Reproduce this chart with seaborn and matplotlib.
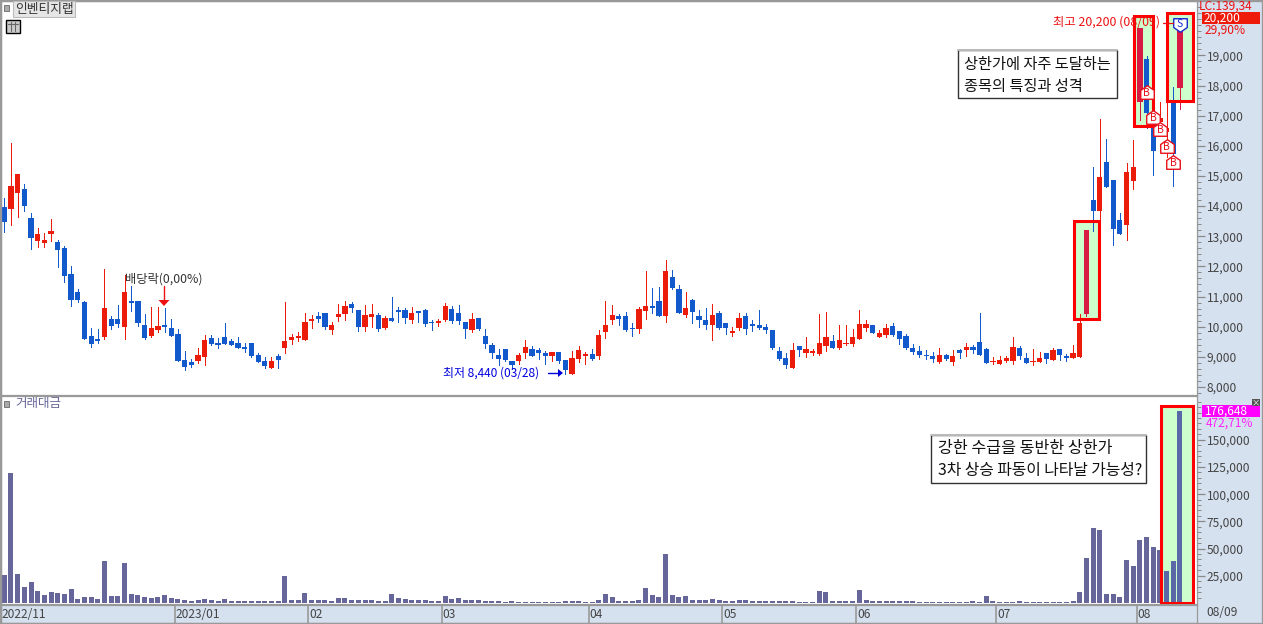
import numpy as np
import pandas as pd
import seaborn as sns
import matplotlib
matplotlib.use('Agg')
import matplotlib.pyplot as plt
from matplotlib.patches import Rectangle, Polygon
from matplotlib.path import Path

# daily candles
opens = [13970,13900,14430,14570,13610,12840,12780,13080,12810,12610,
    11750,11150,10820,9690,9590,9660,10260,10260,9990,10850,
    10850,10060,9690,9890,10060,9960,9760,8900,8830,8860,
    9000,9630,9460,9660,9530,9460,9330,9460,9060,8860,
    8630,9030,9290,9560,9630,9560,10190,10360,10450,9890,
    10320,10420,10750,10550,9990,10320,10390,9960,10290,10550,
    10550,10220,10520,10550,10160,10120,10220,10590,10450,10160,
    9890,10290,9690,9390,9060,9260,8860,8860,9130,9260,
    9230,9130,9030,9160,8900,8440,8930,9030,9090,9030,
    9820,10220,10360,10360,9960,9920,10520,10690,10850,10360,
    11650,11250,10390,10890,10360,10220,10060,10450,10120,9790,
    9960,10360,10090,10060,9990,9890,9190,8960,8630,9360,
    9130,9130,9090,9360,9530,9290,9430,9430,9590,9960,
    10060,9660,9720,10020,9860,9690,9290,9190,9060,9030,
    8830,9060,8830,9230,9230,9330,9490,9260,8830,8760,
    8860,8860,9290,8960,8830,8830,9130,8900,9260,9030,
    8960,9000,10420,14200,13840,15460,14870,13540,13370,14830,
    17450,18880,16920,16790,16460,17420,17920]
closes = [13470,14670,15070,14000,12940,13080,12880,13170,12540,11680,
    10890,10890,9590,9430,9530,10620,10020,10090,11150,10790,
    10120,9630,9960,10020,9990,9690,8860,8660,8730,9060,
    9560,9430,9390,9430,9390,9290,9260,9030,8830,8700,
    8860,8900,9530,9660,9690,10160,10260,10260,9990,10060,
    10420,10690,10620,9990,10390,10420,9920,10290,10190,10490,
    10290,10450,10450,10090,10120,10190,10690,10190,10190,9920,
    10260,9920,9430,9130,8930,8900,8730,9060,9330,9030,
    9130,9030,9160,8860,8560,8960,9230,9090,8930,9720,
    10060,10390,10260,9890,9920,10590,10690,10620,10360,11850,
    11280,10450,10620,10490,10220,10060,10390,9960,9960,9860,
    10290,9920,10020,9960,9890,9290,8930,8730,9230,9230,
    9260,9190,9460,9660,9290,9560,9460,9660,10090,10090,
    9790,9790,9960,9720,9590,9290,9160,9060,9030,8930,
    9060,8930,9030,9130,9330,9230,9060,8800,8860,8900,
    8960,9330,9030,8800,8860,8960,8930,9230,9060,8960,
    9130,10120,13210,13840,14970,14630,13240,13080,15130,15300,
    19910,17090,15830,16920,16590,15730,20200]
highs = [14270,16090,15070,14730,13770,13270,13110,13570,12880,12680,
    12010,11250,10850,9960,9920,11910,10360,10720,11720,11350,
    10850,10420,10650,10650,10620,10260,9920,9190,8930,9290,
    9720,9720,9630,10120,9590,9660,9460,9460,9130,9000,
    9000,9090,10820,9760,9820,10450,10390,10490,10450,10160,
    10750,10850,10820,10550,10720,10750,10450,10360,10990,10650,
    10620,10650,10520,10590,10220,10260,10790,10690,10720,10160,
    10450,10290,9920,9460,9260,9260,8860,9130,9560,9360,
    9290,9190,9160,9160,8900,9190,9360,9160,9260,9890,
    10850,10720,10420,10490,10120,10650,11850,11280,11320,12210,
    11880,11380,11150,10920,10550,10620,10750,10520,10120,9990,
    10450,10450,10220,10550,10090,9890,9330,9130,9460,9360,
    9660,9260,10420,10490,9720,10060,10060,9920,10550,10220,
    10060,9890,10090,10120,9860,9760,9430,9360,9230,9160,
    9290,9090,9230,9260,9460,9390,10450,9290,9000,9030,
    9030,9660,9360,9130,9260,9160,9130,9290,9260,9090,
    9390,10420,13210,15300,16890,16230,14870,13770,15430,16190,
    19910,18980,17250,17450,17450,17950,20200]
lows = [13140,13370,13640,13840,12580,12640,12640,12840,11980,11480,
    10690,10820,9590,9330,9460,9590,9920,9990,9590,10520,
    10020,9590,9660,9820,9820,9690,8860,8560,8660,8800,
    8730,9390,9290,9430,9390,9290,9160,9000,8830,8630,
    8630,8630,9130,9430,9530,9560,9960,10160,9920,9760,
    10190,10220,10490,9860,9860,9990,9860,9920,10190,10160,
    10120,10120,10160,10020,9890,10020,10190,10120,10090,9630,
    9820,9890,9290,8960,8730,8860,8600,8760,8960,9030,
    8930,8760,8860,8800,8440,8440,8830,8760,8900,8930,
    9630,10090,10060,9860,9690,9790,10260,10450,10360,10160,
    11250,10450,10320,10120,9990,9920,9560,9920,9760,9690,
    9890,9760,9860,9920,9790,9260,8900,8630,8630,9030,
    9000,9060,9060,9190,9290,9260,9390,9360,9590,9860,
    9790,9660,9660,9690,9430,9260,9090,9000,8930,8830,
    8800,8900,8730,8960,9030,9130,9060,8800,8760,8760,
    8830,8760,8930,8800,8730,8830,8800,8900,8900,8860,
    8960,9000,10360,13170,13210,14630,12710,13080,12880,14570,
    16860,16590,15030,16360,15630,14670,17220]
volumes = [25700,119500,26700,14700,19300,11000,7400,10100,9200,8300,
    12900,3700,5500,5500,3700,38600,6400,6400,36800,8300,
    7400,5500,4600,5500,7400,4600,3700,2800,1800,2800,
    3700,2800,1800,3700,1800,1800,1800,1800,1800,1800,
    1800,1800,24800,2800,2800,9200,2800,2800,2800,1800,
    4600,4600,2800,2800,2800,2800,1800,1800,8300,4600,
    3700,2800,2800,2800,1800,1800,6400,3700,4600,2800,
    2800,2800,1800,1800,1800,900,1800,900,900,900,
    900,900,900,900,1800,1800,1800,900,900,2800,
    8300,5500,1800,1800,1800,2800,13800,7400,5500,45000,
    7400,5500,6400,2800,2800,2800,3700,2800,1800,1800,
    2800,2800,1800,1800,1800,1800,1800,1800,1800,900,
    900,900,11000,10100,1800,1800,1800,1800,11900,2800,
    1800,1800,1800,1800,1800,1800,1800,900,900,900,
    900,900,900,900,900,1800,900,6400,1800,900,
    900,900,1800,900,900,900,900,900,900,900,
    1800,10100,41400,68900,67100,8300,8300,5500,39500,34000,
    57900,60700,51500,48700,29400,38600,176648]

limit_days = [162, 170, 176]
buy_days = [171, 172, 173, 174, 175]
buy_prices = [17790, 16960, 16560, 15990, 15460]
sell_days = [176]
sell_prices = [20010]

month_pos = [25.5, 45.5, 65.5, 87.5, 107.5, 127.5, 148.5, 169.5]
month_labels = ['2023/01', '02', '03', '04', '05', '06', '07', '08']
price_ticks = list(range(8000, 20000, 1000))
volume_ticks = list(range(25000, 175000, 25000))

# highlighted ranges: first day edge, last day edge, low, high
price_boxes = [(160.06, 163.95, 10240, 13490),
               (169.05, 171.9, 16670, 20320),
               (174.0, 177.9, 17500, 20390)]
volume_box = (173.1, 177.9, 0, 180600)

W, H = 1263, 624
UP = '#ec1c0a'
DOWN = '#1259cc'
LIMIT = '#d81b45'
VOL = '#66669a'
VOL_BOX = '#5a68a8'
GREY = '#999999'
PANEL = '#d6e1ef'
GREEN = '#ccffcc'
BOXRED = '#ff0000'
FONT = ['Noto Sans CJK KR', 'DejaVu Sans']

sns.set_theme(style='white')
plt.rcParams['font.family'] = FONT
plt.rcParams['axes.unicode_minus'] = False

df = pd.DataFrame({'day': range(len(opens)), 'open': opens, 'high': highs,
                   'low': lows, 'close': closes, 'volume': volumes})
df['color'] = np.where(df['close'] >= df['open'], UP, DOWN)
df.loc[limit_days, 'color'] = LIMIT
df['in_box'] = df['day'] >= 174


def rect(l, t, r, b):
    return [l / W, 1 - b / H, (r - l) / W, (b - t) / H]


def put(x, y, s, **kw):
    kw.setdefault('va', 'center')
    kw.setdefault('fontsize', 8.6)
    kw.setdefault('color', '#444444')
    return fig.text(x / W, 1 - y / H, s, **kw)


fig = plt.figure(figsize=(W / 100, H / 100), dpi=100, facecolor=PANEL)
ax_p = fig.add_axes(rect(1, 1, 1197, 395))
ax_v = fig.add_axes(rect(1, 396, 1197, 604))
ax_d = fig.add_axes(rect(1, 605, 1197, 623), facecolor=PANEL)

xlim = ((1 - 4.3) / 6.68, (1197 - 4.3) / 6.68)

# price panel
for l, r, lo, hi in price_boxes:
    ax_p.add_patch(Rectangle((l, lo), r - l, hi - lo, fc=GREEN, ec='none', zorder=1))
ax_p.vlines(df['day'], df['low'], df['high'], colors=df['color'], lw=0.72, zorder=2,
            antialiased=False)
ax_p.bar(df['day'], (df['close'] - df['open']).abs(), bottom=df[['open', 'close']].min(axis=1),
         width=0.78, color=df['color'], linewidth=0, zorder=3)
for l, r, lo, hi in price_boxes:
    ax_p.add_patch(Rectangle((l, lo), r - l, hi - lo, fc='none', ec=BOXRED, lw=2.2,
                             zorder=4, joinstyle='miter'))

house = Path([(-1, -1), (1, -1), (1, 0.3), (0, 1), (-1, 0.3), (-1, -1)], closed=True)
shield = Path([(-1, 1), (1, 1), (1, -0.3), (0, -1), (-1, -0.3), (-1, 1)], closed=True)
ax_p.scatter(buy_days, buy_prices, marker=house, s=95, fc='white', ec='#e8101a', lw=1, zorder=5)
ax_p.scatter(sell_days, sell_prices, marker=shield, s=95, fc='white', ec='#1a2ad0', lw=1, zorder=5)
for d, p in zip(buy_days, buy_prices):
    ax_p.text(d, p - 40, 'B', color='#e8101a', fontsize=7.5, ha='center', va='center', zorder=6)
for d, p in zip(sell_days, sell_prices):
    ax_p.text(d, p + 40, 'S', color='#1a2ad0', fontsize=7.5, ha='center', va='center', zorder=6)

ax_p.set_xlim(xlim)
ax_p.set_ylim(8000 + 33.17 * (387 - 395), 8000 + 33.17 * (387 - 1))
ax_p.set_xticks([])
ax_p.yaxis.tick_right()
ax_p.set_yticks(price_ticks)
ax_p.set_yticklabels([f'{t:,}' for t in price_ticks], fontsize=8.6, color='#444444')
ax_p.set_yticks(range(7800, 20800, 200), minor=True)
ax_p.tick_params(axis='y', which='major', length=6, width=0.9, color='#888888', right=True, pad=1)
ax_p.tick_params(axis='y', which='minor', length=3, width=0.7, color='#888888', right=True)

# trading value panel
sns.barplot(data=df, x='day', y='volume', hue='in_box', palette={False: VOL, True: VOL_BOX},
            width=0.75, saturation=1, legend=False, linewidth=0, ax=ax_v, zorder=3)
l, r, lo, hi = volume_box
ax_v.add_patch(Rectangle((l, lo), r - l, hi - lo, fc=GREEN, ec='none', zorder=1))
ax_v.add_patch(Rectangle((l, lo), r - l, hi - lo, fc='none', ec=BOXRED, lw=2.2, zorder=4,
                         joinstyle='miter'))
ax_v.set_xlim(xlim)
ax_v.set_ylim(-919, 190200)
ax_v.set_xticks([])
ax_v.set_xlabel('')
ax_v.set_ylabel('')
ax_v.yaxis.tick_right()
ax_v.set_yticks(volume_ticks)
ax_v.set_yticklabels([f'{t:,}' for t in volume_ticks], fontsize=8.6, color='#444444')
ax_v.set_yticks(range(5000, 190000, 5000), minor=True)
ax_v.tick_params(axis='y', which='major', length=6, width=0.9, color='#888888', right=True, pad=1)
ax_v.tick_params(axis='y', which='minor', length=3, width=0.7, color='#888888', right=True)

# date strip
ax_d.set_xlim(xlim)
ax_d.set_ylim(0, 1)
ax_d.set_yticks([])
ax_d.set_xticks([])
ax_d.vlines(month_pos, 0, 1, colors=GREY, lw=1.2)
ax_d.text(-0.35, 0.45, '2022/11', ha='left', va='center', fontsize=8.6, color='#444444')
for x, s in zip(month_pos, month_labels):
    ax_d.text(x + 0.15, 0.45, s, ha='left', va='center', fontsize=8.6, color='#444444')

for a in (ax_p, ax_v, ax_d):
    for sp in a.spines.values():
        sp.set_color(GREY)
        sp.set_linewidth(0.9)

fig.add_artist(Rectangle((0, 0), 1, 1, fc='none', ec=GREY, lw=2.4, transform=fig.transFigure))

# labels in the panels
for y in (8, 404):
    fig.add_artist(Rectangle((4 / W, 1 - (y + 3) / H), 5 / W, 6 / H, fc='#aaaaaa', ec='#777777',
                             lw=0.7, transform=fig.transFigure))
put(15, 9, '인벤티지랩', fontsize=9.2, color='#333333',
    bbox=dict(fc='#e6e6e6', ec='#bbbbbb', lw=0.8, pad=1.2))
put(15, 404, '거래대금', fontsize=9, color='#666699')
fig.add_artist(Rectangle((6 / W, 1 - 33 / H), 14 / W, 13 / H, fc='#cccccc', ec='black', lw=1,
                         transform=fig.transFigure))
for x in (11, 15):
    fig.add_artist(plt.Line2D([x / W] * 2, [1 - 22 / H, 1 - 31 / H], color='#666666', lw=0.8))
fig.add_artist(plt.Line2D([8 / W, 18 / W], [1 - 24 / H] * 2, color='#666666', lw=0.8))

put(125, 279, '배당락(0,00%)', fontsize=8.8, color='#333333')
fig.add_artist(plt.Line2D([164 / W] * 2, [1 - 286 / H, 1 - 300 / H], color='#ee1111', lw=1))
fig.add_artist(Polygon([(158.5 / W, 1 - 300 / H), (169.5 / W, 1 - 300 / H), (164 / W, 1 - 306 / H)],
                       fc='#ee1111', ec='none', transform=fig.transFigure))

put(443, 373, '최저 8,440 (03/28)', fontsize=8.6, color='#0000dd')
fig.add_artist(plt.Line2D([548 / W, 558 / W], [1 - 373 / H] * 2, color='#0000dd', lw=1))
fig.add_artist(Polygon([(558 / W, 1 - 369 / H), (558 / W, 1 - 377 / H), (563 / W, 1 - 373 / H)],
                       fc='#0000dd', ec='none', transform=fig.transFigure))

put(1053, 22, '최고 20,200 (08/09)', fontsize=8.9, color='#ee1111', zorder=1)
fig.add_artist(plt.Line2D([1163 / W, 1173 / W], [1 - 23 / H] * 2, color='#ee1111', lw=0.9))

# callout boxes
for l, t, r, b in [(958, 50, 1117, 98), (931, 435, 1146, 483)]:
    fig.add_artist(Rectangle((l / W, 1 - b / H), (r - l) / W, (b - t) / H, fc='white', ec='#333333',
                             lw=1, transform=fig.transFigure, zorder=6))
    fig.add_artist(plt.Line2D([l / W, r / W], [1 - t / H] * 2, color='#bbbbbb', lw=1.4, zorder=7))
put(964, 64, '상한가에 자주 도달하는', fontsize=11, fontweight='medium', color='#111111', zorder=8)
put(964, 86, '종목의 특징과 성격', fontsize=11, fontweight='medium', color='#111111', zorder=8)
put(938, 449, '강한 수급을 동반한 상한가', fontsize=11.6, fontweight='medium', color='#111111', zorder=8)
put(938, 471, '3차 상승 파동이 나타날 가능성?', fontsize=11.4, fontweight='medium', color='#111111', zorder=8)

# right column readouts
put(1199, 6, 'LC:139,34', color='#ee1111', fontsize=8.6)
fig.add_artist(Rectangle((1202 / W, 1 - 24 / H), 58 / W, 12 / H, fc='#ee1a0a', ec='none',
                         transform=fig.transFigure))
put(1204, 18, '20,200', color='white', fontsize=8.6, zorder=5)
put(1205, 30, '29,90%', color='#ee1111', fontsize=8.6)
fig.add_artist(Rectangle((1202 / W, 1 - 417 / H), 58 / W, 12 / H, fc='#ff00ff', ec='none',
                         transform=fig.transFigure))
put(1205, 411, '176,648', color='white', fontsize=8.6, zorder=5)
put(1206, 423, '472,71%', color='#ff22ff', fontsize=8.6)
fig.add_artist(Rectangle((1252 / W, 1 - 406 / H), 8 / W, 7 / H, fc='#555555', ec='none',
                         transform=fig.transFigure))
put(1256, 402.5, '×', color='white', fontsize=6, ha='center', zorder=5)
put(1206, 613, '08/09', fontsize=8.6)

fig.savefig('out.png', dpi=100, facecolor=fig.get_facecolor())
